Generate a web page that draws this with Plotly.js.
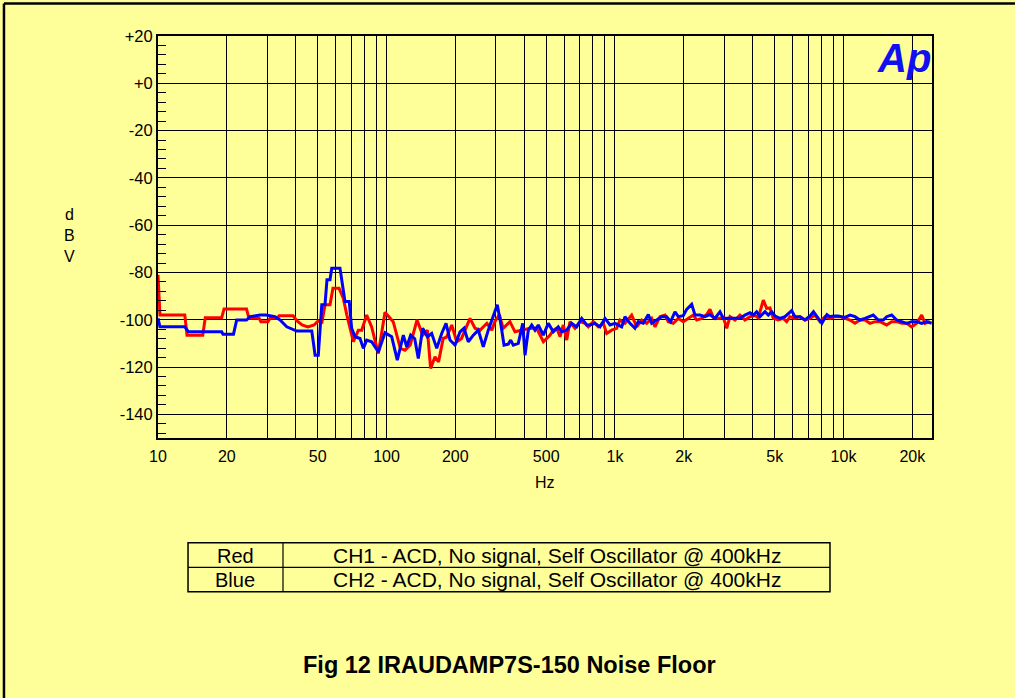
<!DOCTYPE html>
<html>
<head>
<meta charset="utf-8">
<script src="https://cdn.plot.ly/plotly-3.0.1.min.js"></script>
<style>
  html, body { margin: 0; padding: 0; background: #FFFF99; }
  #chart { width: 1015px; height: 698px; }
</style>
</head>
<body>
<div id="chart"></div>
<script>
// ---- Data ----
const freqRed = [10, 10.2, 13.1, 13.4, 15.7, 16.1, 19.0, 19.45, 24.4, 25.0, 27.7, 28.2, 30.3, 30.9, 33.2, 33.9, 39.0, 40.6, 42.7, 45.3, 48.2, 50.2, 52.2, 53.8, 56.6, 58.3, 62.0, 64.7, 67.0, 69.7, 71.6, 75.3, 77.9, 81.9, 86.1, 92.1, 98.5, 107, 115, 120.5, 127, 136, 144, 151, 156, 163, 169, 177, 183, 193, 203, 213, 224, 232, 244, 257, 275, 289, 298, 312, 324, 347, 365, 391, 425, 454, 486, 520, 537, 556, 575, 594, 615, 635, 668, 703, 739, 764, 804, 845, 889, 920, 967, 1017, 1051, 1106, 1183, 1245, 1309, 1376, 1447, 1497, 1574, 1655, 1711, 1799, 1892, 1990, 2093, 2201, 2278, 2395, 2519, 2604, 2692, 2832, 2979, 3083, 3187, 3351, 3524, 3706, 3897, 4099, 4237, 4457, 4612, 4768, 4929, 5184, 5451, 5641, 5832, 6134, 6451, 6783, 7134, 7502, 7890, 8298, 8726, 9178, 9654, 10150, 10680, 11230, 11810, 12420, 13060, 13740, 14440, 15450, 16250, 17090, 17970, 18900, 19880, 20910, 21990, 22740, 23910];
const dbvRed = [-81, -98, -98, -106.5, -106.5, -99.2, -99.2, -95.4, -95.4, -99.4, -99.4, -100.8, -100.8, -99.4, -99.4, -98.3, -98.3, -100.5, -102.2, -103, -102.2, -100.5, -101, -93.7, -93.7, -86.7, -86.7, -90.9, -97.8, -105.1, -109.3, -104.4, -104.4, -98, -103, -114.3, -96.8, -100.8, -112.1, -112.9, -110.7, -100.1, -106.5, -104.4, -120.6, -115.7, -117.8, -107.9, -107.4, -102.2, -109.3, -107.9, -103, -99.4, -103.6, -104.4, -101.5, -104.4, -100.8, -97.8, -103.6, -100.8, -105.1, -104.4, -103.6, -103.6, -109.3, -106.5, -104.4, -103.6, -107.2, -102.2, -108.6, -100.8, -103.6, -100.8, -101.5, -103, -100.8, -103, -101.5, -105.8, -104.4, -103.6, -100.1, -101.5, -98, -103, -100.1, -101.5, -99.4, -103, -98.7, -98, -100.8, -101.5, -99.4, -100.8, -99.4, -98, -100.1, -99.4, -97.8, -95.6, -99, -99.4, -99, -103.6, -98.7, -100.1, -98, -100.1, -98.7, -98.2, -99.2, -91.7, -95.2, -95, -99.4, -100.1, -99.4, -100.8, -98.7, -99.4, -98.7, -100.1, -99.4, -98, -100.8, -98.7, -99.4, -98.7, -98.7, -99.4, -100.1, -101.5, -100.1, -100.1, -101.5, -100.8, -100.8, -102.2, -100.8, -100.8, -101.5, -101.5, -103, -101.5, -98, -101.5, -100.8];

const freqBlue = [10, 10.2, 13.1, 13.6, 19.0, 19.25, 21.4, 22.1, 24.4, 25.3, 28.0, 29.7, 32.5, 34.2, 36.6, 40.5, 47.1, 48.7, 50.3, 52.1, 53.8, 54.9, 56.6, 57.6, 62.6, 65.8, 68.7, 70.4, 72.8, 76.6, 79.2, 81.9, 86.1, 92.1, 98.5, 105.4, 111.5, 118.5, 122.6, 127.6, 132.9, 137.8, 144, 151, 157.7, 165.9, 174.4, 182.2, 189.6, 199.5, 209.8, 218.4, 228, 239.9, 252.2, 265.2, 278.9, 295.4, 305.4, 316.1, 326.8, 341.4, 349.7, 358.9, 377.5, 394.6, 403.8, 417.5, 432, 446.7, 461.8, 485.6, 510.7, 537, 564.6, 584.3, 614.6, 646.3, 679.8, 715, 751.7, 777.3, 817.6, 859.9, 904.2, 951, 1000, 1070, 1106, 1163, 1223, 1265, 1330, 1399, 1447, 1522, 1601, 1683, 1753, 1830, 1893, 1990, 2059, 2166, 2239, 2355, 2476, 2604, 2738, 2880, 2979, 3187, 3351, 3524, 3706, 3897, 4030, 4169, 4312, 4535, 4688, 4852, 5016, 5275, 5546, 5934, 6134, 6451, 6783, 7134, 7390, 7648, 8045, 8461, 8726, 9025, 9489, 10150, 10680, 11230, 11810, 12420, 13500, 14200, 14940, 15450, 16250, 17090, 17970, 18900, 19880, 20910, 21990, 23130, 24320];
const dbvBlue = [-99.4, -103, -103, -105.1, -105.1, -106.1, -106.1, -100.1, -100.1, -98.7, -98, -98, -98.7, -100.1, -103, -104.8, -104.8, -115, -115, -93.7, -93.7, -83.1, -83.1, -78.2, -78.2, -92.3, -92.3, -103.6, -107.2, -107.9, -112.1, -108.6, -109.3, -113.6, -105.5, -107.2, -117.1, -106.5, -111.4, -106.5, -108, -116.4, -103.6, -107.2, -105.8, -112.1, -105.8, -101.5, -108.6, -110.7, -105.1, -103.6, -109.3, -106.5, -104.4, -111.4, -104.4, -98, -93.7, -101.5, -110.7, -110.3, -108.6, -110.7, -110, -101.5, -115, -104.4, -102.2, -104.4, -102.2, -106.5, -101.5, -105.1, -103, -105.1, -104.4, -101.5, -103, -99.4, -102.2, -102.2, -101.5, -103, -99.4, -102.2, -101.5, -103, -98.7, -101.5, -103.6, -100.8, -101.5, -97.8, -101.5, -100.1, -98.7, -98.7, -100.8, -96.6, -98.7, -98.3, -95.6, -93.5, -98, -98, -98.7, -97.8, -99.4, -96.6, -99.4, -99.4, -99.4, -99.4, -98, -97, -98, -96.6, -98.7, -96.6, -98, -96.6, -98.4, -99.4, -98.7, -96.1, -98.7, -98.7, -100.1, -98.4, -96.6, -98.7, -101.5, -97.8, -98.7, -98.4, -98.4, -99, -98, -98.7, -100.1, -99.4, -98, -100.1, -100.1, -98.7, -98, -100.1, -100.8, -101.5, -100.8, -100.8, -101.5, -100.8, -101.5];

const xTickVals = [10,20,30,40,50,60,70,80,90,100,200,300,400,500,600,700,800,900,1000,2000,3000,4000,5000,6000,7000,8000,9000,10000,20000];
const xTickText = ['10','20','','','50','','','','','100','200','','','500','','','','','1k','2k','','','5k','','','','','10k','20k'];
const yTickVals = [20, 0, -20, -40, -60, -80, -100, -120, -140];
const yTickText = ['+20', '+0', '-20', '-40', '-60', '-80', '-100', '-120', '-140'];

const legendNames = ['Red', 'Blue'];
const legendDescriptions = ['CH1 - ACD, No signal, Self Oscillator @ 400kHz', 'CH2 - ACD, No signal, Self Oscillator @ 400kHz'];
const chartTitle = 'Fig 12 IRAUDAMP7S-150 Noise Floor';
const xTitle = 'Hz';
const yTitle = 'd<br>B<br>V';
const logoText = 'Ap';

// ---- Plot ----
const FONT = 'Arial, "Liberation Sans", sans-serif';
const traces = [
  { x: freqRed, y: dbvRed, type: 'scatter', mode: 'lines', name: legendNames[0],
    line: { color: '#FF0000', width: 3 }, hoverinfo: 'skip' },
  { x: freqBlue, y: dbvBlue, type: 'scatter', mode: 'lines', name: legendNames[1],
    line: { color: '#0000FF', width: 3 }, hoverinfo: 'skip' }
];

// table geometry (paper coords)
const tx0 = 0.0388, tx1 = 0.8682, tdiv = 0.1615;
const ty0 = -0.2606, tmid = -0.3216, ty1 = -0.3825;

const shapes = [
  { type: 'rect', xref: 'paper', yref: 'paper', x0: tx0, x1: tx1, y0: ty0, y1: ty1, line: { color: 'black', width: 1.5 } },
  { type: 'line', xref: 'paper', yref: 'paper', x0: tx0, x1: tx1, y0: tmid, y1: tmid, line: { color: 'black', width: 1.2 } },
  { type: 'line', xref: 'paper', yref: 'paper', x0: tdiv, x1: tdiv, y0: ty0, y1: ty1, line: { color: 'black', width: 1.2 } },
  // outer frame (top & left)
  { type: 'line', xref: 'paper', yref: 'paper', x0: -0.1990, x1: 1.11, y0: 1.0809, y1: 1.0809, line: { color: 'black', width: 2.5 } },
  { type: 'line', xref: 'paper', yref: 'paper', x0: -0.1990, x1: -0.1990, y0: 1.0809, y1: -0.65, line: { color: 'black', width: 2.5 } }
];

function ann(text, x, y, size, color, extra) {
  return Object.assign({ text: text, xref: 'paper', yref: 'paper', x: x, y: y, xanchor: 'center', yanchor: 'middle',
    showarrow: false, font: { family: FONT, size: size, color: color || 'black' } }, extra || {});
}

const annotations = [
  ann(legendNames[0], 0.0995, -0.2929, 20),
  ann(legendNames[1], 0.0995, -0.3527, 20),
  ann(legendDescriptions[0], 0.5155, -0.2929, 21),
  ann(legendDescriptions[1], 0.5155, -0.3527, 21),
  ann('<b>' + chartTitle + '</b>', 0.4535, -0.5642, 23.5),
  ann(xTitle, 0.4996, -0.1112, 16),
  ann(yTitle, -0.1137, 0.5047, 16, 'black', { align: 'center' }),
  ann('<b><i>' + logoText + '</i></b>', 0.9638, 0.9464, 40, '#1010F0')
];

const layout = {
  width: 1015, height: 698,
  paper_bgcolor: '#FFFF99', plot_bgcolor: '#FFFF99',
  margin: { l: 158, r: 83, t: 36, b: 260, pad: 0 },
  showlegend: false,
  font: { family: FONT, size: 16, color: 'black' },
  xaxis: {
    type: 'log', range: [1, Math.log10(24400)],
    tickmode: 'array', tickvals: xTickVals, ticktext: xTickText,
    showgrid: true, gridcolor: '#000000', gridwidth: 1,
    ticks: '', ticklabelstandoff: 3,
    showline: true, linecolor: 'black', linewidth: 2, mirror: true,
    zeroline: false, tickfont: { family: FONT, size: 16, color: 'black' }
  },
  yaxis: {
    range: [-150, 20],
    tickmode: 'array', tickvals: yTickVals, ticktext: yTickText,
    showgrid: true, gridcolor: '#000000', gridwidth: 1,
    ticks: 'inside', ticklen: 8, tickcolor: 'black', tickwidth: 1,
    minor: { tickmode: 'linear', tick0: 0, dtick: 4, ticks: 'inside', ticklen: 8, tickcolor: 'black', tickwidth: 1, showgrid: false },
    showline: true, linecolor: 'black', linewidth: 2, mirror: true,
    zeroline: false, tickfont: { family: FONT, size: 16.5, color: 'black' }
  },
  shapes: shapes,
  annotations: annotations
};

Plotly.newPlot('chart', traces, layout, { displayModeBar: false, staticPlot: true });
</script>
</body>
</html>
